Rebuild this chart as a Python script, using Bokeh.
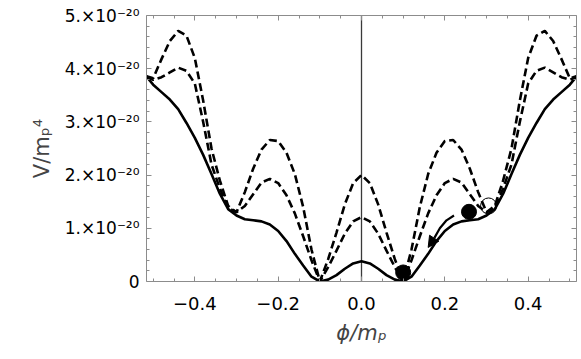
from bokeh.plotting import figure
from bokeh.models import (LinearAxis, FixedTicker, Range1d, Span, Arrow, NormalHead,
                          CustomLabelingPolicy)
from bokeh.embed import file_html
from bokeh.resources import INLINE

# field values phi/m_p
phi = [-0.516, -0.50, -0.48, -0.46, -0.44, -0.42, -0.40, -0.38, -0.36, -0.34,
       -0.32, -0.30, -0.28, -0.26, -0.24, -0.22, -0.20, -0.18, -0.16, -0.14,
       -0.12, -0.10, -0.08, -0.06, -0.04, -0.02,
       0.00, 0.02, 0.04, 0.06, 0.08, 0.10, 0.12, 0.14, 0.16, 0.18,
       0.20, 0.22, 0.24, 0.26, 0.28, 0.30, 0.32, 0.34, 0.36, 0.38,
       0.40, 0.42, 0.44, 0.46, 0.48, 0.50, 0.516]

# potentials in units of 1e-20 m_p^4
v_solid = [3.85, 3.70, 3.56, 3.42, 3.24, 2.98, 2.70, 2.38, 2.02, 1.65,
           1.36, 1.24, 1.17, 1.15, 1.13, 1.07, 0.95, 0.76, 0.52, 0.30,
           0.09, 0.00, 0.035, 0.12, 0.24, 0.34,
           0.38, 0.34, 0.24, 0.12, 0.035, 0.00, 0.09, 0.30, 0.52, 0.76,
           0.95, 1.07, 1.13, 1.15, 1.17, 1.24, 1.36, 1.65, 2.02, 2.38,
           2.70, 2.98, 3.24, 3.42, 3.56, 3.70, 3.85]

v_dash_hi = [3.86, 3.82, 4.18, 4.52, 4.71, 4.62, 4.20, 3.40, 2.50, 1.90,
             1.42, 1.30, 1.68, 2.12, 2.48, 2.66, 2.64, 2.42, 2.02, 1.40,
             0.60, 0.00, 0.42, 0.92, 1.45, 1.85,
             2.00, 1.85, 1.45, 0.92, 0.42, 0.00, 0.60, 1.40, 2.02, 2.42,
             2.64, 2.66, 2.48, 2.12, 1.68, 1.30, 1.42, 1.90, 2.50, 3.40,
             4.20, 4.62, 4.71, 4.52, 4.18, 3.82, 3.86]

v_dash_lo = [3.85, 3.79, 3.84, 3.93, 4.02, 3.96, 3.72, 3.00, 2.20, 1.75,
             1.38, 1.30, 1.42, 1.64, 1.86, 1.93, 1.85, 1.62, 1.28, 0.85,
             0.40, 0.00, 0.27, 0.58, 0.90, 1.13,
             1.21, 1.13, 0.90, 0.58, 0.27, 0.00, 0.40, 0.85, 1.28, 1.62,
             1.85, 1.93, 1.86, 1.64, 1.42, 1.30, 1.38, 1.75, 2.20, 3.00,
             3.72, 3.96, 4.02, 3.93, 3.84, 3.79, 3.85]

ball_x = [0.10, 0.258]
ball_y = [0.17, 1.31]
open_x = [0.305]
open_y = [1.42]
arrow_x = [0.222, 0.204, 0.188, 0.175, 0.160]
arrow_y = [1.24, 1.15, 1.00, 0.82, 0.64]

x_ticks = [-0.4, -0.2, 0.0, 0.2, 0.4]
x_tick_labels = ["\u22120.4", "\u22120.2", "0.0", "0.2", "0.4"]
x_minor = [-0.5, -0.45, -0.35, -0.3, -0.25, -0.15, -0.1, -0.05,
           0.05, 0.1, 0.15, 0.25, 0.3, 0.35, 0.45, 0.5]
y_ticks = [0, 1, 2, 3, 4, 5]
y_tick_labels = ["0", "1.\u00d710\u207b\u00b2\u2070", "2.\u00d710\u207b\u00b2\u2070",
                 "3.\u00d710\u207b\u00b2\u2070", "4.\u00d710\u207b\u00b2\u2070",
                 "5.\u00d710\u207b\u00b2\u2070"]
y_minor = [0.2, 0.4, 0.6, 0.8, 1.2, 1.4, 1.6, 1.8, 2.2, 2.4, 2.6, 2.8,
           3.2, 3.4, 3.6, 3.8, 4.2, 4.4, 4.6, 4.8]

FONT = "DejaVu Sans"
FRAME = "#8c8c8c"

p = figure(width=581, height=359, x_range=Range1d(-0.516, 0.516),
           y_range=Range1d(0, 5), output_backend="svg", toolbar_location=None,
           x_axis_location=None, y_axis_location=None,
           min_border_left=146, min_border_right=5, min_border_top=15,
           min_border_bottom=78)
p.outline_line_color = None
p.xgrid.visible = False
p.ygrid.visible = False
p.background_fill_color = "white"

no_labels = CustomLabelingPolicy(code="return new Set()")


def style_axis(ax, labels):
    ax.axis_line_color = FRAME
    ax.major_tick_line_color = FRAME
    ax.minor_tick_line_color = FRAME
    ax.major_tick_in = 5
    ax.major_tick_out = 0
    ax.minor_tick_in = 3
    ax.minor_tick_out = 0
    ax.major_label_text_font = FONT
    ax.major_label_text_color = "black"
    if not labels:
        ax.major_label_policy = no_labels
        ax.major_label_text_font_size = "1px"
        ax.major_label_standoff = 0


xb = LinearAxis(ticker=FixedTicker(ticks=x_ticks, minor_ticks=x_minor))
style_axis(xb, True)
xb.major_label_overrides = {t: s for t, s in zip(x_ticks, x_tick_labels)}
xb.major_label_text_font_size = "18px"
xb.major_label_standoff = 15
xb.axis_label = "\u03d5/m\u209a"
xb.axis_label_text_font = FONT
xb.axis_label_text_font_style = "italic"
xb.axis_label_text_font_size = "21px"
xb.axis_label_standoff = 8
p.add_layout(xb, "below")

yl = LinearAxis(ticker=FixedTicker(ticks=y_ticks, minor_ticks=y_minor))
style_axis(yl, True)
yl.major_label_overrides = {t: s for t, s in zip(y_ticks, y_tick_labels)}
yl.major_label_text_font_size = "17px"
yl.major_label_standoff = 7
yl.axis_label = "V/m\u209a\u2074"
yl.axis_label_text_font = FONT
yl.axis_label_text_font_style = "normal"
yl.axis_label_text_font_size = "21px"
yl.axis_label_standoff = 8
p.add_layout(yl, "left")

xt = LinearAxis(ticker=FixedTicker(ticks=x_ticks, minor_ticks=x_minor))
style_axis(xt, False)
p.add_layout(xt, "above")

yr = LinearAxis(ticker=FixedTicker(ticks=y_ticks, minor_ticks=y_minor))
style_axis(yr, False)
p.add_layout(yr, "right")

p.add_layout(Span(location=0, dimension="height", line_color="#3a3a3a",
                  line_width=1.3, level="underlay"))

p.line(phi, v_dash_hi, line_color="black", line_width=2.6, line_dash="8 4")
p.line(phi, v_dash_lo, line_color="black", line_width=2.6, line_dash="8 4")
p.line(phi, v_solid, line_color="black", line_width=2.6)

p.line(arrow_x[:-1], arrow_y[:-1], line_color="black", line_width=2.2)
p.add_layout(Arrow(end=NormalHead(size=11, fill_color="black", line_color="black"),
                   x_start=arrow_x[-2], y_start=arrow_y[-2],
                   x_end=arrow_x[-1], y_end=arrow_y[-1],
                   line_color="black", line_width=2.2))

p.scatter(ball_x, ball_y, size=15, fill_color="black", line_color="black")
p.scatter(open_x, open_y, size=16, fill_alpha=0, line_color="black", line_width=1)

open("out.html", "w").write(file_html(p, INLINE))
